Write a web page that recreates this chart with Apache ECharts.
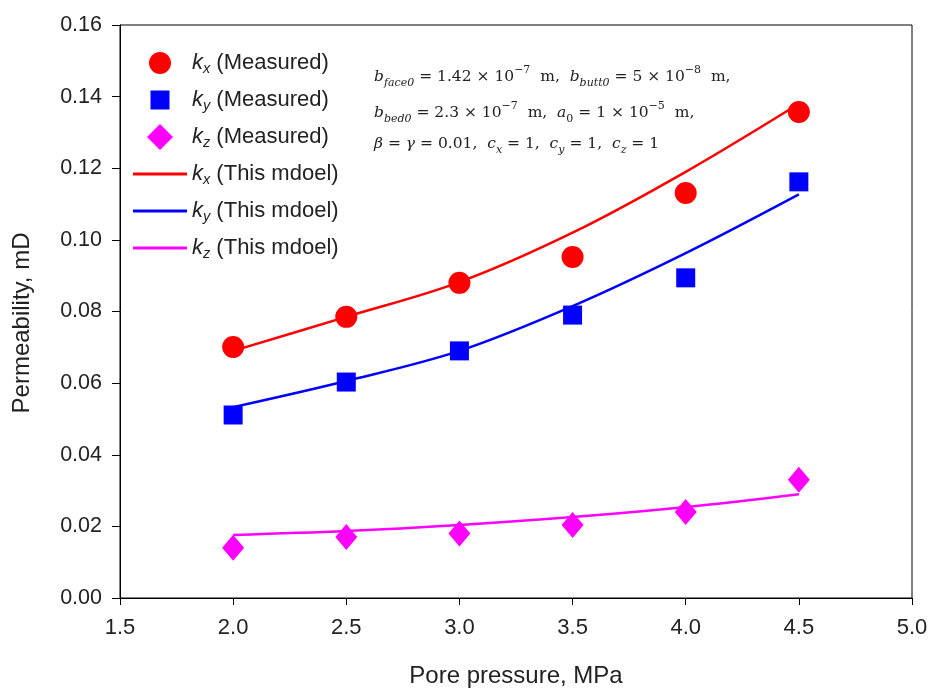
<!DOCTYPE html>
<html>
<head>
<meta charset="utf-8">
<script src="https://cdn.jsdelivr.net/npm/echarts@6/dist/echarts.min.js"></script>
<style>
  html, body { margin: 0; padding: 0; background: #fff; }
  #chart { width: 928px; height: 688px; }
</style>
</head>
<body>
<div id="chart"></div>
<script>
// Pore pressure (MPa) at which permeability was measured
const pressure = [2.0, 2.5, 3.0, 3.5, 4.0, 4.5];

// Measured permeability (mD)
const kxMeasured = [0.0701, 0.0785, 0.0880, 0.0952, 0.1131, 0.1357];
const kyMeasured = [0.0511, 0.0603, 0.0690, 0.0790, 0.0894, 0.1162];
const kzMeasured = [0.0140, 0.0170, 0.0180, 0.0204, 0.0240, 0.0330];

// Model predictions (mD)
const kxModel = [0.0690, 0.0785, 0.0882, 0.1020, 0.1190, 0.1380];
const kyModel = [0.0533, 0.0606, 0.0690, 0.0815, 0.0963, 0.1127];
const kzModel = [0.0176, 0.0187, 0.0204, 0.0226, 0.0254, 0.0290];

// Axis ticks
const xTicks = { min: 1.5, max: 5.0, step: 0.5 };
const yTicks = { min: 0, max: 0.16, step: 0.02 };

const RED = '#ff0000', BLUE = '#0000ff', MAGENTA = '#ff00ff';
const pair = (xs, ys) => xs.map((x, i) => [x, ys[i]]);

// Legend icons: padded paths so every marker keeps its own size inside a 26px-high slot
const ICON_CIRCLE = 'path://M0,0M2,13A11,11,0,1,1,24,13A11,11,0,1,1,2,13ZM26,26';
const ICON_SQUARE = 'path://M0,0M3.5,3.5L22.5,3.5L22.5,22.5L3.5,22.5ZM26,26';
const ICON_DIAMOND = 'path://M0,0M13,0L26,13L13,26L0,13Z';
const ICON_LINE = 'path://M0,0M0,11.5L54,11.5L54,14.5L0,14.5ZM54,26';

// Legend labels with italic k and subscript direction
const legendItems = [
  { name: 'kx (Measured)', label: '{k|k}{s|x} (Measured)', icon: ICON_CIRCLE },
  { name: 'ky (Measured)', label: '{k|k}{s|y} (Measured)', icon: ICON_SQUARE },
  { name: 'kz (Measured)', label: '{k|k}{s|z} (Measured)', icon: ICON_DIAMOND },
  { name: 'kx (This mdoel)', label: '{k|k}{s|x} (This mdoel)', icon: ICON_LINE },
  { name: 'ky (This mdoel)', label: '{k|k}{s|y} (This mdoel)', icon: ICON_LINE },
  { name: 'kz (This mdoel)', label: '{k|k}{s|z} (This mdoel)', icon: ICON_LINE }
];
const legendLabel = Object.fromEntries(legendItems.map(d => [d.name, d.label]));

const serif = 'DejaVu Serif';
const ink = '#222';
const eqRich = {
  t: { fontFamily: serif, fontSize: 15.5, color: ink, lineHeight: 24 },
  i: { fontFamily: serif, fontSize: 15.5, fontStyle: 'italic', color: ink, lineHeight: 24 },
  sub: { fontFamily: serif, fontSize: 11, fontStyle: 'italic', color: ink, lineHeight: 13, verticalAlign: 'bottom' },
  subn: { fontFamily: serif, fontSize: 11, color: ink, lineHeight: 13, verticalAlign: 'bottom' },
  sup: { fontFamily: serif, fontSize: 11, color: ink, lineHeight: 14, verticalAlign: 'top' }
};

const eqLines = [
  '{i|b}{sub|face0}{t| = 1.42 × 10}{sup|−7}{t|  m,  }{i|b}{sub|butt0}{t| = 5 × 10}{sup|−8}{t|  m,}',
  '{i|b}{sub|bed0}{t| = 2.3 × 10}{sup|−7}{t|  m,  }{i|a}{subn|0}{t| = 1 × 10}{sup|−5}{t|  m,}',
  '{i|β}{t| = }{i|γ}{t| = 0.01,  }{i|c}{sub|x}{t| = 1,  }{i|c}{sub|y}{t| = 1,  }{i|c}{sub|z}{t| = 1}'
];

const chart = echarts.init(document.getElementById('chart'), null, { renderer: 'canvas' });

const scatterSeries = (name, data, symbol, size, color) => ({
  name, type: 'scatter', data, symbol, symbolSize: size,
  itemStyle: { color, opacity: 1 }, z: 3
});
const lineSeries = (name, data, color) => ({
  name, type: 'line', data, smooth: 0.35, symbol: 'none', showSymbol: false,
  lineStyle: { color, width: 2.5 }, itemStyle: { color }, z: 2
});

chart.setOption({
  animation: false,
  backgroundColor: '#fff',
  grid: {
    left: 120, right: 16, top: 25, bottom: 90,
    outerBoundsMode: 'none', containLabel: false,
    show: true, borderColor: '#000', borderWidth: 1, backgroundColor: 'transparent'
  },
  xAxis: {
    type: 'value', min: xTicks.min, max: xTicks.max, interval: xTicks.step,
    name: 'Pore pressure, MPa', nameLocation: 'middle', nameGap: 66,
    nameTextStyle: { fontFamily: 'Liberation Sans', fontSize: 24, color: ink },
    axisLine: { show: true, lineStyle: { color: '#000', width: 1 } },
    axisTick: { show: true, inside: false, length: 7, lineStyle: { color: '#000' } },
    axisLabel: {
      fontFamily: 'Liberation Sans', fontSize: 22, color: ink, margin: 19,
      formatter: v => v.toFixed(1)
    },
    splitLine: { show: false }
  },
  yAxis: {
    type: 'value', min: yTicks.min, max: yTicks.max, interval: yTicks.step,
    axisLine: { show: true, lineStyle: { color: '#000', width: 1 } },
    axisTick: { show: true, inside: false, length: 8, lineStyle: { color: '#000' } },
    axisLabel: {
      fontFamily: 'Liberation Sans', fontSize: 21.5, color: ink, margin: 18,
      formatter: v => v.toFixed(2)
    },
    splitLine: { show: false }
  },
  legend: {
    orient: 'vertical', left: 128, top: 45,
    itemWidth: 54, itemHeight: 26, itemGap: 11,
    symbolKeepAspect: true,
    data: legendItems.map(d => ({ name: d.name, icon: d.icon })),
    formatter: name => legendLabel[name],
    textStyle: {
      fontFamily: 'Liberation Sans', fontSize: 22, color: ink, lineHeight: 26,
      rich: {
        k: { fontFamily: 'Liberation Sans', fontSize: 22, fontStyle: 'italic', color: ink, lineHeight: 26 },
        s: { fontFamily: 'Liberation Sans', fontSize: 14.5, fontStyle: 'italic', color: ink, lineHeight: 14, verticalAlign: 'bottom' }
      }
    }
  },
  graphic: [
    // y-axis title
    {
      type: 'text', x: 22, y: 323, rotation: Math.PI / 2,
      style: {
        text: 'Permeability, mD', x: 0, y: 0, align: 'center', verticalAlign: 'middle',
        fontFamily: 'Liberation Sans', fontSize: 24, fill: ink
      }
    },
    // model parameters
    ...eqLines.map((text, i) => ({
      type: 'text', left: 374, top: 65 + i * 35.5,
      style: { text, rich: eqRich, fill: ink }
    }))
  ],
  series: [
    scatterSeries('kx (Measured)', pair(pressure, kxMeasured), 'circle', 22, RED),
    scatterSeries('ky (Measured)', pair(pressure, kyMeasured), 'rect', 19, BLUE),
    scatterSeries('kz (Measured)', pair(pressure, kzMeasured), 'diamond', [22, 26], MAGENTA),
    lineSeries('kx (This mdoel)', pair(pressure, kxModel), RED),
    lineSeries('ky (This mdoel)', pair(pressure, kyModel), BLUE),
    lineSeries('kz (This mdoel)', pair(pressure, kzModel), MAGENTA)
  ]
});
</script>
</body>
</html>
